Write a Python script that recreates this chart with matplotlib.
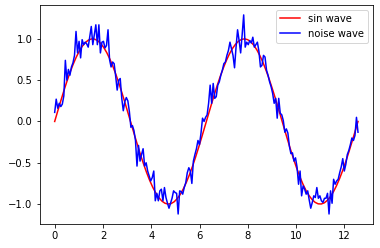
import matplotlib
matplotlib.use("Agg")
import matplotlib.pyplot as plt

# smooth sine
x_sin = [0.000, 0.127, 0.254, 0.381, 0.508, 0.635, 0.762, 0.889, 1.015, 1.142,
         1.269, 1.396, 1.523, 1.650, 1.777, 1.904, 2.031, 2.158, 2.285, 2.412,
         2.539, 2.666, 2.792, 2.919, 3.046, 3.173, 3.300, 3.427, 3.554, 3.681,
         3.808, 3.935, 4.062, 4.189, 4.316, 4.443, 4.570, 4.696, 4.823, 4.950,
         5.077, 5.204, 5.331, 5.458, 5.585, 5.712, 5.839, 5.966, 6.093, 6.220,
         6.347, 6.474, 6.600, 6.727, 6.854, 6.981, 7.108, 7.235, 7.362, 7.489,
         7.616, 7.743, 7.870, 7.997, 8.124, 8.251, 8.377, 8.504, 8.631, 8.758,
         8.885, 9.012, 9.139, 9.266, 9.393, 9.520, 9.647, 9.774, 9.901, 10.028,
         10.155, 10.281, 10.408, 10.535, 10.662, 10.789, 10.916, 11.043, 11.170, 11.297,
         11.424, 11.551, 11.678, 11.805, 11.932, 12.059, 12.185, 12.312, 12.439, 12.566]
sin_y = [0.000, 0.127, 0.251, 0.372, 0.486, 0.593, 0.690, 0.776, 0.850, 0.910,
         0.955, 0.985, 0.999, 0.997, 0.979, 0.945, 0.896, 0.833, 0.756, 0.667,
         0.567, 0.458, 0.342, 0.220, 0.095, -0.032, -0.158, -0.282, -0.401, -0.514,
         -0.618, -0.713, -0.796, -0.866, -0.922, -0.964, -0.990, -1.000, -0.994, -0.972,
         -0.934, -0.882, -0.815, -0.735, -0.643, -0.541, -0.430, -0.312, -0.189, -0.063,
         0.063, 0.189, 0.312, 0.430, 0.541, 0.643, 0.735, 0.815, 0.882, 0.934,
         0.972, 0.994, 1.000, 0.990, 0.964, 0.922, 0.866, 0.796, 0.713, 0.618,
         0.514, 0.401, 0.282, 0.158, 0.032, -0.095, -0.220, -0.342, -0.458, -0.567,
         -0.667, -0.756, -0.833, -0.896, -0.945, -0.979, -0.997, -0.999, -0.985, -0.955,
         -0.910, -0.850, -0.776, -0.690, -0.593, -0.486, -0.372, -0.251, -0.127, 0.000]

# noisy trace
x_noise = [0.000, 0.063, 0.126, 0.189, 0.253, 0.316, 0.379, 0.442, 0.505, 0.568,
           0.631, 0.695, 0.758, 0.821, 0.884, 0.947, 1.010, 1.074, 1.137, 1.200,
           1.263, 1.326, 1.389, 1.452, 1.516, 1.579, 1.642, 1.705, 1.768, 1.831,
           1.894, 1.958, 2.021, 2.084, 2.147, 2.210, 2.273, 2.336, 2.400, 2.463,
           2.526, 2.589, 2.652, 2.715, 2.779, 2.842, 2.905, 2.968, 3.031, 3.094,
           3.157, 3.221, 3.284, 3.347, 3.410, 3.473, 3.536, 3.599, 3.663, 3.726,
           3.789, 3.852, 3.915, 3.978, 4.041, 4.105, 4.168, 4.231, 4.294, 4.357,
           4.420, 4.484, 4.547, 4.610, 4.673, 4.736, 4.799, 4.862, 4.926, 4.989,
           5.052, 5.115, 5.178, 5.241, 5.304, 5.368, 5.431, 5.494, 5.557, 5.620,
           5.683, 5.746, 5.810, 5.873, 5.936, 5.999, 6.062, 6.125, 6.189, 6.252,
           6.315, 6.377, 6.441, 6.504, 6.567, 6.630, 6.693, 6.756, 6.820, 6.883,
           6.946, 7.009, 7.072, 7.135, 7.198, 7.262, 7.325, 7.388, 7.451, 7.514,
           7.577, 7.640, 7.704, 7.767, 7.830, 7.893, 7.956, 8.019, 8.082, 8.146,
           8.209, 8.272, 8.335, 8.398, 8.461, 8.525, 8.588, 8.651, 8.714, 8.777,
           8.840, 8.903, 8.967, 9.030, 9.093, 9.156, 9.219, 9.282, 9.345, 9.409,
           9.472, 9.535, 9.598, 9.661, 9.724, 9.787, 9.851, 9.914, 9.977, 10.040,
           10.103, 10.166, 10.230, 10.293, 10.356, 10.419, 10.482, 10.545, 10.608, 10.672,
           10.735, 10.798, 10.861, 10.924, 10.987, 11.050, 11.114, 11.177, 11.240, 11.303,
           11.366, 11.429, 11.492, 11.556, 11.619, 11.682, 11.745, 11.808, 11.871, 11.935,
           11.998, 12.061, 12.124, 12.187, 12.250, 12.313, 12.377, 12.440, 12.503, 12.566]
noise_y = [0.11, 0.27, 0.16, 0.22, 0.18, 0.21, 0.31, 0.74, 0.50, 0.63,
           0.56, 0.66, 0.71, 0.80, 1.09, 0.83, 0.97, 0.77, 0.99, 0.93,
           0.96, 0.94, 0.90, 1.02, 1.15, 0.93, 1.05, 1.17, 0.93, 1.17,
           0.83, 0.96, 0.97, 0.89, 0.92, 1.11, 0.75, 0.66, 0.72, 0.70,
           0.55, 0.38, 0.50, 0.52, 0.28, 0.13, 0.24, 0.29, 0.25, 0.12,
           -0.07, -0.05, -0.11, -0.23, -0.54, -0.29, -0.48, -0.40, -0.33, -0.54,
           -0.50, -0.60, -0.66, -0.72, -0.68, -0.60, -0.96, -0.87, -0.96, -0.84,
           -0.82, -0.96, -0.80, -0.92, -0.99, -1.05, -0.99, -0.93, -0.84, -0.86,
           -0.87, -1.12, -0.84, -0.85, -0.88, -0.80, -0.74, -0.62, -0.56, -0.60,
           -0.75, -0.48, -0.40, -0.33, -0.23, -0.28, -0.14, 0.04, 0.00, 0.05,
           0.08, 0.22, 0.44, 0.22, 0.46, 0.28, 0.30, 0.44, 0.48, 0.56,
           0.62, 0.70, 0.72, 0.80, 0.86, 0.96, 0.88, 0.80, 0.65, 0.90,
           1.11, 0.98, 0.83, 1.05, 1.29, 0.90, 0.96, 0.93, 0.98, 0.95,
           1.02, 0.90, 0.93, 0.96, 0.85, 0.66, 0.68, 0.80, 0.78, 0.62,
           0.56, 0.48, 0.42, 0.34, 0.22, 0.28, 0.04, 0.28, 0.10, 0.08,
           0.01, -0.13, -0.09, -0.14, -0.30, -0.39, -0.38, -0.48, -0.44, -0.55,
           -0.76, -0.60, -0.90, -0.78, -0.82, -0.88, -0.84, -0.95, -1.05, -0.98,
           -0.90, -0.92, -0.80, -0.93, -0.90, -0.96, -0.98, -0.93, -0.93, -0.87,
           -1.12, -0.84, -0.99, -0.70, -0.76, -0.72, -0.70, -0.62, -0.55, -0.45,
           -0.60, -0.52, -0.40, -0.35, -0.28, -0.20, -0.23, -0.17, 0.05, -0.13]

fig = plt.figure(figsize=(380 / 72, 248 / 72), dpi=72)
ax = fig.add_axes([0.104, 0.097, 0.878, 0.883])
ax.plot(x_sin, sin_y, color='red', label='sin wave')
ax.plot(x_noise, noise_y, color='blue', label='noise wave')
ax.legend(loc='upper right')
fig.savefig("out.png", dpi=72)
